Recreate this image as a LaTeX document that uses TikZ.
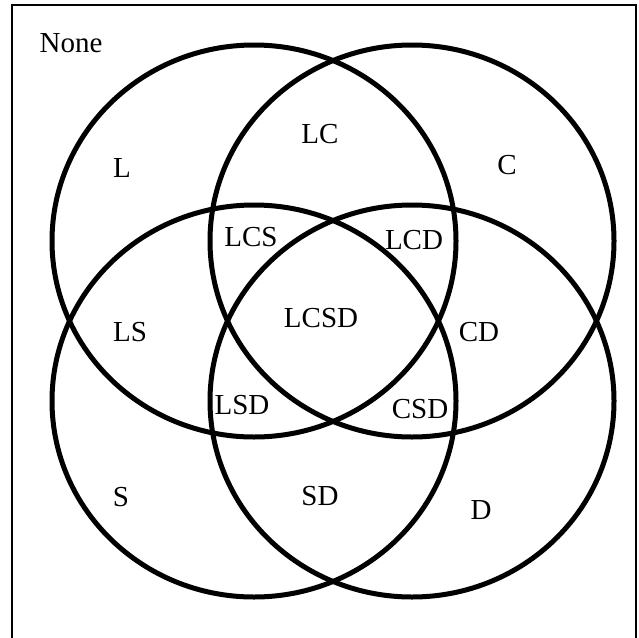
\documentclass[tikz,border=0pt]{standalone}
\usepackage{fontspec}
\setmainfont{Liberation Serif}
\begin{document}
\begin{tikzpicture}[x=1pt,y=-1pt,
    set/.style={line width=5pt},
    region/.style={font=\fontsize{29}{34}\selectfont,inner sep=0pt}]
  \useasboundingbox (0,0) rectangle (639,637);
  \draw[line width=1.5pt] (12,650) -- (12,5) -- (636,5) -- (636,650);
  \coordinate (cL) at (254,241);
  \coordinate (cC) at (412,241);
  \coordinate (cS) at (254,401);
  \coordinate (cD) at (412,401);
  \foreach \c in {cL,cC,cS,cD}
    \draw[set] (\c) ellipse[x radius=202,y radius=196];
  \node[region] (none) at (71,43) {None};
  \node[region] (l) at (122,168) {L};
  \node[region] (lc) at (320,134) {LC};
  \node[region] (c) at (507,165) {C};
  \node[region] (lcs) at (251,237) {LCS};
  \node[region] (lcd) at (414,240) {LCD};
  \node[region] (ls) at (130,332) {LS};
  \node[region] (lcsd) at (321,318) {LCSD};
  \node[region] (cd) at (479,332) {CD};
  \node[region] (lsd) at (242,405) {LSD};
  \node[region] (csd) at (420,409) {CSD};
  \node[region] (s) at (121,497) {S};
  \node[region] (sd) at (320,496) {SD};
  \node[region] (d) at (481,510) {D};
\end{tikzpicture}
\end{document}
